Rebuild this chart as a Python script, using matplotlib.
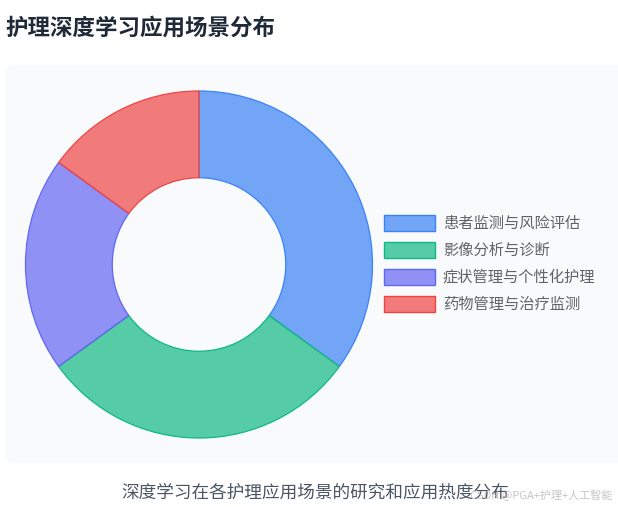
import matplotlib.pyplot as plt
from matplotlib.colors import to_rgb
from matplotlib.patches import FancyBboxPatch, Rectangle

plt.rcParams['font.family'] = ['Noto Sans CJK SC', 'DejaVu Sans']

labels = ["患者监测与风险评估", "影像分析与诊断", "症状管理与个性化护理", "药物管理与治疗监测"]
values = [35, 30, 20, 15]
colors = ["#3b82f6", "#10b981", "#6366f1", "#ef4444"]

W, H = 618, 507
fig = plt.figure(figsize=(W / 100, H / 100), dpi=100)
fig.patch.set_facecolor("white")

def fx(px):
    return px / W

def fy(py):
    return 1 - py / H

# card background
card = FancyBboxPatch((fx(5), fy(463)), fx(640) - fx(5), fy(65) - fy(463),
                      boxstyle="round,pad=0,rounding_size=0.018",
                      transform=fig.transFigure, facecolor="#f8fafc",
                      edgecolor="none", zorder=-5)
fig.patches.append(card)

fig.text(fx(5), fy(28), "护理深度学习应用场景分布", fontsize=16.2, fontweight="bold",
         color="#1f2937", ha="left", va="center")

# donut
cx, cy, R = 199, 264.5, 173.5
ax = fig.add_axes([fx(cx - R), fy(cy + R), (2 * R) / W, (2 * R) / H], zorder=2)
ax.patch.set_alpha(0)
wedges, _ = ax.pie(values, radius=1, startangle=90, counterclock=False,
                   colors=[(*to_rgb(c), 0.7) for c in colors],
                   wedgeprops=dict(width=0.5, linewidth=0.9))
for w, c in zip(wedges, colors):
    w.set_edgecolor(c)
ax.set_xlim(-1, 1)
ax.set_ylim(-1, 1)
ax.axis("off")

# legend
row_y = [223, 250, 277, 304]
for lab, c, y in zip(labels, colors, row_y):
    r = Rectangle((fx(384), fy(y + 8)), fx(435) - fx(384), fy(y - 8) - fy(y + 8),
                  transform=fig.transFigure,
                  facecolor=(*to_rgb(c), 0.7),
                  edgecolor=c, linewidth=1.0)
    fig.patches.append(r)
    fig.text(fx(443), fy(y), lab, fontsize=11, color="#5f6368",
             ha="left", va="center")

fig.text(fx(315), fy(493), "深度学习在各护理应用场景的研究和应用热度分布",
         fontsize=12.7, color="#4b5563", ha="center", va="center")
fig.text(fx(612), fy(495), "CSDN @PGA+护理+人工智能", fontsize=8,
         color="#b8b8b8", alpha=0.8, ha="right", va="center")

fig.savefig("out.png", dpi=100)
